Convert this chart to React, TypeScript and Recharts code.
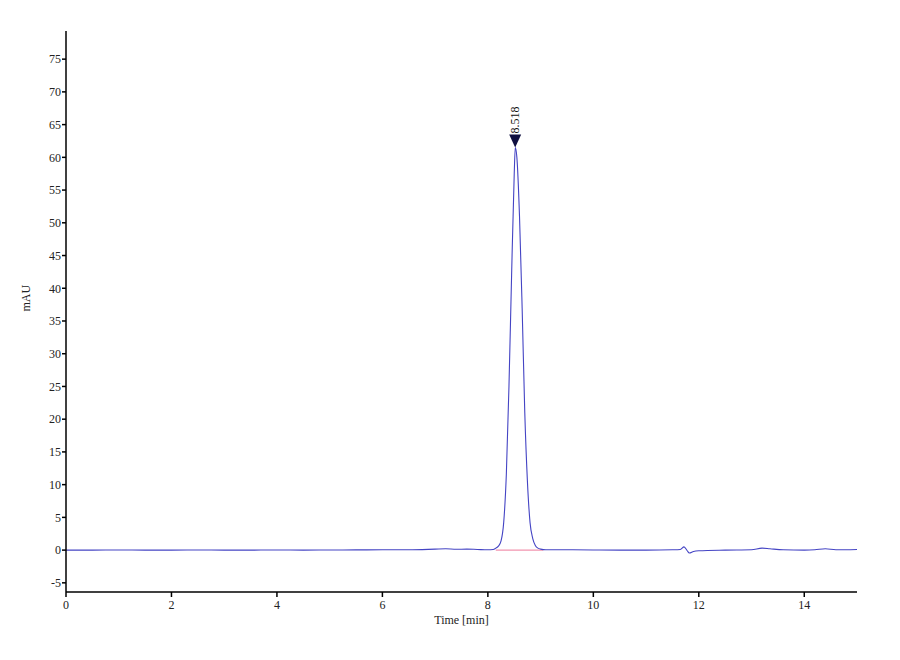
import React from 'react';
import { LineChart, Line, XAxis, YAxis, ReferenceDot } from 'recharts';

const times = [
  0, 0.5, 1, 1.5, 2, 2.5, 3, 3.5, 4, 4.5, 5, 5.5, 6, 6.5, 7, 7.2, 7.4, 7.6, 7.8, 8.0,
  8.1, 8.15, 8.2, 8.25, 8.3, 8.35, 8.4, 8.45, 8.5, 8.52, 8.55, 8.6, 8.65, 8.7, 8.75, 8.8, 8.85, 8.9, 8.95, 9.0, 9.1,
  9.2, 9.5, 10, 10.5, 11, 11.5, 11.65, 11.72, 11.78, 11.82, 11.9, 12, 12.5, 13, 13.2, 13.35, 13.6, 14, 14.2, 14.4, 14.6, 15,
];
const signal = [
  0, 0, 0.02, 0, 0, 0.02, 0, 0, 0.02, 0, 0.02, 0.03, 0.05, 0.05, 0.15, 0.2, 0.12, 0.15, 0.1, 0.05,
  0.1, 0.3, 0.6, 1.4, 4.2, 11.5, 25, 42, 57.5, 61.5, 60, 51, 37, 21, 10.5, 4.2, 1.8, 0.7, 0.3, 0.15, 0.05,
  0.05, 0.05, 0.02, 0, 0, 0.05, 0.1, 0.5, -0.1, -0.45, -0.2, -0.1, 0, 0.05, 0.3, 0.2, 0.05, 0, 0.05, 0.2, 0.05, 0.1,
];
const baselineTimes = [8.15, 9.05];
const baselineValues = [0, 0];
const peakTime = 8.518;
const peakHeight = 61.5;
const peakLabel = '8.518';
const xTicks = [0, 2, 4, 6, 8, 10, 12, 14];
const yTicks = [-5, 0, 5, 10, 15, 20, 25, 30, 35, 40, 45, 50, 55, 60, 65, 70, 75];

const data = times.map((t, i) => ({ t, v: signal[i] }));
const baseline = baselineTimes.map((t, i) => ({ t, b: baselineValues[i] }));

const FONT = '"Liberation Serif", "DejaVu Serif", serif';

const PeakMarker = (props: any) => {
  const { cx, cy } = props;
  return (
    <g>
      <path d={`M${cx - 6},${cy - 13} L${cx + 6},${cy - 13} L${cx},${cy} Z`} fill="#101040" />
      <text
        x={cx + 4}
        y={cy - 14}
        transform={`rotate(-90, ${cx + 4}, ${cy - 14})`}
        fontFamily={FONT}
        fontSize={12}
        fill="#111"
        textAnchor="start"
      >
        {peakLabel}
      </text>
    </g>
  );
};

export default function App() {
  return (
    <div style={{ position: 'absolute', left: 0, top: 0, width: 900, height: 660, background: '#fff' }}>
      <LineChart
        width={900}
        height={660}
        data={data}
        margin={{ top: 31, right: 43, bottom: 28, left: 0 }}
      >
        <XAxis
          dataKey="t"
          type="number"
          domain={[0, 15]}
          ticks={xTicks}
          allowDataOverflow
          stroke="#000"
          strokeWidth={1.5}
          tickSize={5}
          tickMargin={3}
          tick={{ fontFamily: FONT, fontSize: 12, fill: '#222' }}
          height={40}
          label={{ value: 'Time [min]', position: 'insideBottom', offset: 8, fontFamily: FONT, fontSize: 12, fill: '#222' }}
        />
        <YAxis
          type="number"
          domain={[-6.4, 79.3]}
          ticks={yTicks}
          allowDataOverflow
          stroke="#000"
          strokeWidth={1.5}
          tickSize={4}
          tickMargin={1}
          width={66}
          tick={{ fontFamily: FONT, fontSize: 12, fill: '#222' }}
          label={{ value: 'mAU', angle: -90, position: 'insideLeft', offset: 26, fontFamily: FONT, fontSize: 12, fill: '#222' }}
        />
        <Line
          data={baseline}
          dataKey="b"
          stroke="#ee7a9a"
          strokeWidth={1}
          dot={false}
          isAnimationActive={false}
        />
        <Line
          dataKey="v"
          stroke="#4444c4"
          strokeWidth={1.1}
          dot={false}
          type="monotone"
          isAnimationActive={false}
        />
        <ReferenceDot x={peakTime} y={peakHeight} ifOverflow="visible" shape={PeakMarker} />
      </LineChart>
    </div>
  );
}
